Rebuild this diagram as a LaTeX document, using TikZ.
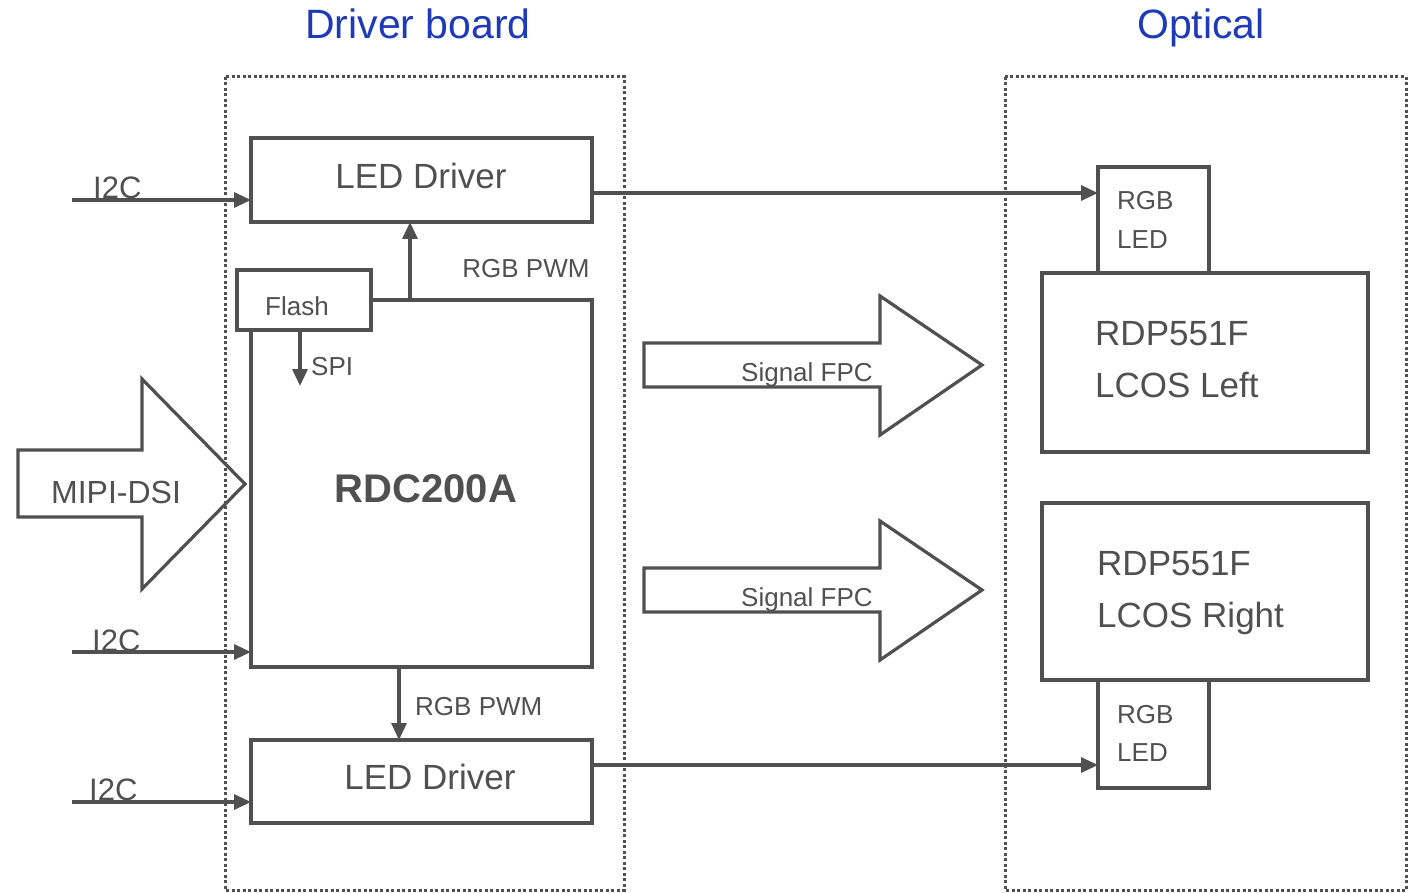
\documentclass[tikz,border=0pt]{standalone}
\usepackage{fontspec}
\setmainfont{Liberation Sans}
\usetikzlibrary{arrows.meta}
\definecolor{lc}{HTML}{505050}
\definecolor{tb}{HTML}{1F3AB8}
\newcommand{\fsz}[1]{\fontsize{#1}{#1}\selectfont}
\begin{document}
\begin{tikzpicture}[x=1pt,y=-1pt,
  box/.style={draw=lc, line width=3.2pt, fill=white, inner sep=0pt, outer sep=0pt, anchor=north west},
  conn/.style={draw=lc, line width=3.2pt, -{Triangle[length=17pt,width=15pt]}},
  bigarrow/.style={draw=lc, line width=3.2pt},
  dotbox/.style={draw=lc, line width=3pt, dash pattern=on 3pt off 2.5pt},
  lbl/.style={text=lc, inner sep=0pt, anchor=base},
  lblw/.style={text=lc, inner sep=0pt, anchor=base west},
  title/.style={text=tb, inner sep=0pt, anchor=base, font=\fsz{41}}]
\useasboundingbox (0,0) rectangle (1412,893);

% group frames
\draw[dotbox] (225,77) rectangle (624,890);
\draw[dotbox] (1005,77) rectangle (1406,890);
\node[title] (tdrv) at (418,39) {Driver board};
\node[title] (topt) at (1201,39) {Optical};

% big arrows
\draw[bigarrow] (18,450) -- (142,450) -- (142,379) -- (245,484) -- (142,589) -- (142,517) -- (18,517) -- cycle;
\draw[bigarrow] (644,343) -- (880,343) -- (880,296) -- (982,365) -- (880,435) -- (880,387) -- (644,387) -- cycle;
\draw[bigarrow] (644,568) -- (880,568) -- (880,521) -- (982,590) -- (880,660) -- (880,612) -- (644,612) -- cycle;

% boxes
\node[box, minimum width=341pt, minimum height=84pt] (ledA) at (251,138) {};
\node[box, minimum width=341pt, minimum height=367pt] (rdc) at (251,300) {};
\node[box, minimum width=134pt, minimum height=60pt] (flash) at (237,270) {};
\node[box, minimum width=341pt, minimum height=83pt] (ledB) at (251,740) {};
\node[box, minimum width=111pt, minimum height=106pt] (rgbA) at (1098,167) {};
\node[box, minimum width=326pt, minimum height=179pt] (lcosL) at (1042,273) {};
\node[box, minimum width=326pt, minimum height=177pt] (lcosR) at (1042,503) {};
\node[box, minimum width=111pt, minimum height=108pt] (rgbB) at (1098,680) {};

% connectors
\coordinate (i1) at (72,200);
\coordinate (i2) at (72,652);
\coordinate (i3) at (72,802);
\draw[conn] (i1) -- (i1 -| ledA.west);
\draw[conn] (i2) -- (i2 -| rdc.west);
\draw[conn] (i3) -- (i3 -| ledB.west);
\coordinate (pa) at (410,300);
\draw[conn] (pa) -- (pa |- ledA.south);
\coordinate (pb) at (399,667);
\draw[conn] (pb) -- (pb |- ledB.north);
\coordinate (sp) at (300,386);
\draw[conn] (sp |- flash.south) -- (sp);
\coordinate (oa) at (592,193);
\draw[conn] (oa) -- (oa -| rgbA.west);
\coordinate (ob) at (592,765);
\draw[conn] (ob) -- (ob -| rgbB.west);

% texts
\node[lbl, font=\fsz{35}] (tledA) at (421,189) {LED Driver};
\node[lbl, font=\fsz{35}] (tledB) at (430,789) {LED Driver};
\node[lbl, font=\fsz{26}] (tpwmA) at (526,277) {RGB PWM};
\node[lblw, font=\fsz{26}] (tpwmB) at (415,715) {RGB PWM};
\node[lbl, font=\fsz{26}] (tflash) at (297,315) {Flash};
\node[lblw, font=\fsz{26}] (tspi) at (311,375) {SPI};
\node[lbl, font=\fsz{40}\bfseries] (trdc) at (426,502) {RDC200A};
\node[lbl, font=\fsz{32}] (tmipi) at (116,503) {MIPI-DSI};
\node[lblw, font=\fsz{31}] (ti1) at (93,199) {I2C};
\node[lblw, font=\fsz{31}] (ti2) at (92,651) {I2C};
\node[lblw, font=\fsz{31}] (ti3) at (89,800) {I2C};
\node[lblw, font=\fsz{26}] (tfpc1) at (741,381) {Signal FPC};
\node[lblw, font=\fsz{26}] (tfpc2) at (741,606) {Signal FPC};
\node[lblw, font=\fsz{26}] (trgbA1) at (1117,210) {RGB};
\node[lblw, font=\fsz{26}] (trgbA2) at (1117,248) {LED};
\node[lblw, font=\fsz{26}] (trgbB1) at (1117,723) {RGB};
\node[lblw, font=\fsz{26}] (trgbB2) at (1117,761) {LED};
\node[lblw, font=\fsz{35}] (tlL1) at (1095,345) {RDP551F};
\node[lblw, font=\fsz{35}] (tlL2) at (1095,397) {LCOS Left};
\node[lblw, font=\fsz{35}] (tlR1) at (1097,575) {RDP551F};
\node[lblw, font=\fsz{35}] (tlR2) at (1097,627) {LCOS Right};
\end{tikzpicture}
\end{document}
